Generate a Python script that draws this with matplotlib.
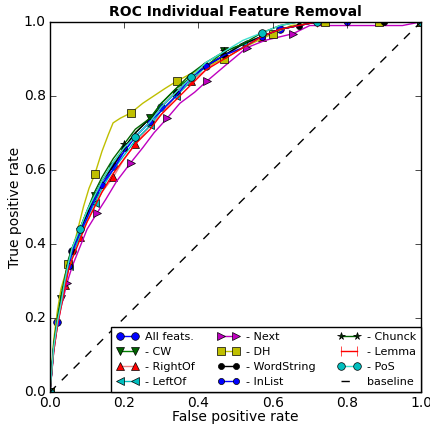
import matplotlib
matplotlib.use("Agg")
import matplotlib.pyplot as plt

plt.style.use("classic")

# shared false positive grid for the clustered curves
fpr = [0, 0.01, 0.02, 0.03, 0.04, 0.05, 0.06, 0.08, 0.10, 0.12, 0.14, 0.17, 0.20, 0.23,
       0.27, 0.30, 0.34, 0.38, 0.42, 0.47, 0.52, 0.57, 0.62, 0.67, 0.72, 0.80, 0.90, 1.0]

tpr_all = [0, 0.12, 0.19, 0.25, 0.30, 0.35, 0.38, 0.43, 0.48, 0.52, 0.56, 0.61, 0.65, 0.69,
           0.73, 0.77, 0.81, 0.85, 0.88, 0.91, 0.94, 0.96, 0.98, 0.99, 1.0, 1.0, 1.0, 1.0]
tpr_cw = [0, 0.12, 0.20, 0.25, 0.31, 0.35, 0.39, 0.44, 0.49, 0.53, 0.57, 0.62, 0.66, 0.70,
          0.74, 0.78, 0.82, 0.85, 0.88, 0.92, 0.94, 0.96, 0.98, 0.99, 1.0, 1.0, 1.0, 1.0]
tpr_rightof = [0, 0.11, 0.18, 0.24, 0.29, 0.33, 0.37, 0.42, 0.46, 0.50, 0.54, 0.58, 0.63, 0.67,
               0.72, 0.75, 0.80, 0.84, 0.87, 0.91, 0.93, 0.96, 0.98, 0.99, 1.0, 1.0, 1.0, 1.0]
tpr_leftof = [0, 0.12, 0.19, 0.24, 0.29, 0.34, 0.37, 0.42, 0.47, 0.51, 0.55, 0.60, 0.64, 0.68,
              0.72, 0.76, 0.80, 0.84, 0.88, 0.91, 0.94, 0.96, 0.98, 0.99, 1.0, 1.0, 1.0, 1.0]
tpr_wordstring = [0, 0.12, 0.19, 0.25, 0.30, 0.35, 0.38, 0.44, 0.48, 0.53, 0.57, 0.61, 0.66, 0.70,
                  0.74, 0.77, 0.81, 0.85, 0.88, 0.91, 0.94, 0.96, 0.98, 0.99, 1.0, 1.0, 1.0, 1.0]
tpr_inlist = [0, 0.12, 0.19, 0.25, 0.30, 0.34, 0.38, 0.43, 0.47, 0.52, 0.56, 0.60, 0.65, 0.69,
              0.73, 0.76, 0.80, 0.85, 0.88, 0.91, 0.93, 0.96, 0.98, 0.99, 1.0, 1.0, 1.0, 1.0]
tpr_chunck = [0, 0.13, 0.20, 0.26, 0.31, 0.36, 0.39, 0.44, 0.49, 0.54, 0.58, 0.63, 0.67, 0.71,
              0.74, 0.78, 0.82, 0.86, 0.89, 0.92, 0.94, 0.97, 0.99, 1.0, 1.0, 1.0, 1.0, 1.0]
tpr_lemma = [0, 0.11, 0.18, 0.23, 0.28, 0.33, 0.36, 0.41, 0.46, 0.50, 0.54, 0.59, 0.63, 0.67,
             0.71, 0.75, 0.79, 0.83, 0.87, 0.90, 0.93, 0.96, 0.98, 0.99, 1.0, 1.0, 1.0, 1.0]
tpr_pos = [0, 0.12, 0.19, 0.24, 0.30, 0.35, 0.39, 0.44, 0.49, 0.53, 0.57, 0.62, 0.66, 0.69,
           0.73, 0.77, 0.81, 0.85, 0.89, 0.92, 0.95, 0.97, 0.99, 1.0, 1.0, 1.0, 1.0, 1.0]

# curves with their own points
fpr_next = [0, 0.01, 0.02, 0.03, 0.046, 0.06, 0.08, 0.10, 0.127, 0.15, 0.18, 0.218, 0.25, 0.28,
            0.316, 0.35, 0.39, 0.423, 0.47, 0.53, 0.58, 0.655, 0.70, 0.75, 0.85, 0.95, 1.0]
tpr_next = [0, 0.11, 0.18, 0.23, 0.295, 0.34, 0.39, 0.44, 0.484, 0.52, 0.57, 0.62, 0.66, 0.70,
            0.74, 0.78, 0.81, 0.84, 0.88, 0.93, 0.95, 0.968, 0.99, 0.99, 0.99, 0.99, 1.0]

fpr_dh = [0, 0.01, 0.02, 0.03, 0.049, 0.07, 0.09, 0.105, 0.121, 0.14, 0.157, 0.17, 0.19, 0.218,
          0.25, 0.28, 0.31, 0.342, 0.38, 0.42, 0.47, 0.52, 0.60, 0.65, 0.74, 0.887, 1.0]
tpr_dh = [0, 0.14, 0.22, 0.28, 0.346, 0.42, 0.50, 0.55, 0.589, 0.65, 0.695, 0.727, 0.74, 0.754,
          0.78, 0.80, 0.82, 0.84, 0.86, 0.88, 0.90, 0.93, 0.968, 0.99, 1.0, 1.0, 1.0]

fig = plt.figure(figsize=(4.31, 4.28), dpi=100, facecolor="white")
ax = fig.add_axes([0.116, 0.084, 0.861, 0.865])

ms = 5.5
ax.plot(fpr, tpr_all, "b-o", ms=ms, markevery=[0, 2, 6, 11, 15, 17, 18, 22, 27], label="All feats.")
ax.plot(fpr, tpr_cw, "-v", color="g", mfc="#006400", ms=ms, markevery=[0, 3, 9, 14, 19, 24, 27], label="- CW")
ax.plot(fpr, tpr_rightof, "-^", color="#f08080", mfc="r", ms=ms, markevery=[0, 4, 7, 11, 13, 17, 21, 27], label="- RightOf")
ax.plot(fpr, tpr_leftof, "-<", color="c", mfc="c", ms=ms, markevery=[0, 5, 9, 14, 16, 20, 27], label="- LeftOf")
ax.plot(fpr_next, tpr_next, "m->", ms=ms, markevery=[0, 4, 8, 11, 14, 17, 19, 21, 26], label="- Next")
ax.plot(fpr_dh, tpr_dh, "y-s", ms=ms, markevery=[0, 4, 8, 13, 17, 20, 22, 24, 25, 26], label="- DH")
ax.plot(fpr, tpr_wordstring, "k-o", ms=ms * 0.8, markevery=[0, 6, 12, 16, 19, 23, 26, 27], label="- WordString")
ax.plot(fpr, tpr_inlist, "b-o", ms=ms * 0.8, markevery=[0, 5, 10, 14, 18, 21, 25, 27], label="- InList")
ax.plot(fpr, tpr_chunck, "-*", color="#006400", mfc="#003000", ms=ms, markevery=[0, 7, 12, 19, 23, 27], label="- Chunck")
ax.plot(fpr, tpr_lemma, "r-|", ms=ms * 1.4, markevery=[0, 24, 27], label="- Lemma")
ax.plot(fpr, tpr_pos, "-o", color="#40e0d0", mfc="c", ms=ms, markevery=[0, 7, 13, 17, 21, 24, 27], label="- PoS")
ax.plot([0, 1], [0, 1], "k--", label="baseline")

ax.set_xlim(0, 1)
ax.set_ylim(0, 1)
ax.set_xticks([0.0, 0.2, 0.4, 0.6, 0.8, 1.0])
ax.set_yticks([0.0, 0.2, 0.4, 0.6, 0.8, 1.0])
ax.tick_params(labelsize=10, pad=3)
ax.set_xlabel("False positive rate", fontsize=10, labelpad=0)
ax.set_ylabel("True positive rate", fontsize=10, labelpad=1)
ax.set_title("ROC Individual Feature Removal", fontsize=10, fontweight="bold", pad=4)

ax.legend(loc="lower right", ncol=3, fontsize=8, numpoints=2, handlelength=2.0,
          borderaxespad=0.0, columnspacing=2.0, labelspacing=0.45, handletextpad=0.6,
          borderpad=0.45)

fig.savefig("out.png", dpi=100, facecolor="white")
